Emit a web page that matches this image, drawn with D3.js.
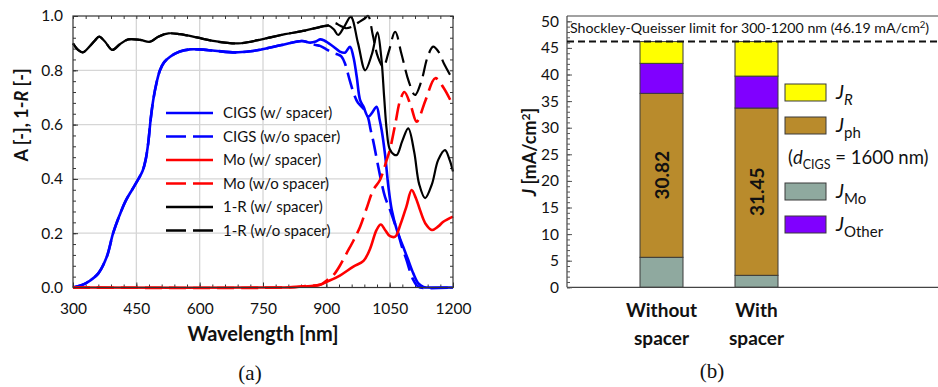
<!DOCTYPE html>
<html lang="en">
<head>
<meta charset="utf-8">
<title>Absorption and current density</title>
<script src="https://cdn.jsdelivr.net/npm/d3@7"></script>
<style>
  body { margin: 0; background: #fff; }
  text { font-family: Lato, "Open Sans", sans-serif; fill: #111; }
</style>
</head>
<body>
<script>
// ---- panel (a) data: wavelength [nm] / value pairs ----
var cigsWithWl  = [300,320,340,360,380,395,410,425,440,455,465,472,478,484,490,498,506,516,530,553,577,600,636,684,720,747,794,842,862,875,885,895,905,917,932,944,956,964,972,980,988,999,1009,1019,1026,1031,1039,1047,1055,1067,1082,1094,1106,1118,1130,1140,1200];
var cigsWithVal = [0.0,0.008,0.025,0.052,0.113,0.2,0.265,0.32,0.36,0.40,0.43,0.47,0.53,0.62,0.69,0.755,0.8,0.83,0.85,0.869,0.877,0.877,0.872,0.866,0.87,0.877,0.893,0.908,0.902,0.906,0.914,0.91,0.9,0.887,0.869,0.865,0.887,0.85,0.776,0.69,0.666,0.629,0.645,0.666,0.62,0.58,0.49,0.371,0.285,0.212,0.15,0.101,0.052,0.015,0.002,0,0];

var cigsWoWl  = [300,320,340,360,380,395,410,425,440,455,465,472,478,484,490,498,506,516,530,553,577,600,636,684,720,747,794,842,862,875,885,900,915,928,936,944,956,966,975,990,999,1005,1011,1023,1031,1039,1051,1060,1070,1080,1090,1098,1106,1114,1122,1200];
var cigsWoVal = [0.0,0.008,0.025,0.052,0.113,0.2,0.265,0.32,0.36,0.40,0.43,0.47,0.53,0.62,0.69,0.755,0.8,0.83,0.85,0.869,0.877,0.877,0.872,0.866,0.87,0.877,0.893,0.908,0.9,0.893,0.89,0.877,0.865,0.858,0.85,0.826,0.76,0.71,0.68,0.655,0.625,0.58,0.54,0.445,0.384,0.334,0.285,0.245,0.2,0.145,0.101,0.06,0.028,0.008,0,0];

var moWithWl  = [300,800,830,869,885,901,932,964,988,1003,1019,1029,1040,1050,1063,1075,1090,1102,1112,1122,1135,1150,1165,1177,1200];
var moWithVal = [0,0,0.002,0.006,0.01,0.021,0.044,0.077,0.098,0.14,0.212,0.232,0.21,0.19,0.187,0.23,0.30,0.359,0.33,0.285,0.235,0.212,0.225,0.242,0.261];

var moWoWl  = [300,800,850,885,900,917,932,948,965,980,995,1011,1027,1043,1051,1063,1075,1085,1100,1114,1135,1158,1178,1200];
var moWoVal = [0,0,0.005,0.01,0.025,0.046,0.08,0.126,0.175,0.224,0.29,0.359,0.396,0.47,0.51,0.60,0.69,0.72,0.67,0.611,0.69,0.771,0.735,0.67];

var rWithWl  = [300,312,323,340,352,362,376,393,411,431,459,482,502,526,553,593,628,660,691,747,802,849,889,905,918,928,942,958,975,992,1008,1021,1030,1037,1043,1050,1060,1067,1080,1094,1108,1120,1134,1150,1165,1181,1192,1200];
var rWithVal = [0.899,0.875,0.866,0.889,0.91,0.924,0.905,0.875,0.896,0.914,0.912,0.905,0.924,0.936,0.933,0.921,0.909,0.902,0.899,0.914,0.933,0.946,0.961,0.965,0.95,0.93,0.96,0.997,0.9,0.8,0.86,0.94,0.85,0.70,0.58,0.51,0.49,0.488,0.54,0.586,0.50,0.38,0.329,0.38,0.47,0.506,0.47,0.427];

var rWoWl  = [300,312,323,340,352,362,376,393,411,431,459,482,502,526,553,593,628,660,691,747,802,849,889,905,918,932,946,960,975,990,999,1010,1022,1035,1048,1063,1078,1095,1110,1125,1140,1153,1165,1180,1200];
var rWoVal = [0.899,0.875,0.866,0.889,0.91,0.924,0.905,0.875,0.896,0.914,0.912,0.905,0.924,0.936,0.933,0.921,0.909,0.902,0.899,0.914,0.933,0.946,0.961,0.965,0.975,0.965,0.955,0.96,0.975,0.99,1.0,0.93,0.85,0.813,0.87,0.942,0.86,0.76,0.709,0.76,0.85,0.887,0.87,0.82,0.764];

var seriesNames  = ["CIGS (w/ spacer)", "CIGS (w/o spacer)", "Mo (w/ spacer)", "Mo (w/o spacer)", "1-R (w/ spacer)", "1-R (w/o spacer)"];
var seriesColors = ["#0000ff", "#0000ff", "#ff0000", "#ff0000", "#000000", "#000000"];
var seriesDashed = [false, true, false, true, false, true];
var seriesWl  = [cigsWithWl, cigsWoWl, moWithWl, moWoWl, rWithWl, rWoWl];
var seriesVal = [cigsWithVal, cigsWoVal, moWithVal, moWoVal, rWithVal, rWoVal];

var wlTicks = [300, 450, 600, 750, 900, 1050, 1200];
var aTicks  = [0, 0.2, 0.4, 0.6, 0.8, 1.0];

// ---- panel (b) data ----
var categories = ["Without spacer", "With spacer"];
var jMo    = [5.64, 2.25];
var jPh    = [30.82, 31.45];
var jOther = [5.64, 6.0];
var jR     = [4.09, 6.49];
var sqLimit = 46.19;
var jTicks = [0, 5, 10, 15, 20, 25, 30, 35, 40, 45, 50];

var svg = d3.select("body").append("svg")
    .attr("width", 938).attr("height", 387);

// ================= panel (a) =================
var x = d3.scaleLinear().domain([300, 1200]).range([73, 453]);
var y = d3.scaleLinear().domain([0, 1]).range([287.5, 16]);

var pa = svg.append("g");

// grid
pa.selectAll(".vgrid").data(wlTicks.slice(1, -1)).enter().append("line")
    .attr("x1", function(d){ return x(d); }).attr("x2", function(d){ return x(d); })
    .attr("y1", y(0)).attr("y2", y(1))
    .attr("stroke", "#d6d6d6").attr("stroke-width", 1.3);
pa.selectAll(".hgrid").data(aTicks.slice(1, -1)).enter().append("line")
    .attr("y1", function(d){ return y(d); }).attr("y2", function(d){ return y(d); })
    .attr("x1", x(300)).attr("x2", x(1200))
    .attr("stroke", "#d6d6d6").attr("stroke-width", 1.3);

// ticks on all four sides, pointing inwards
function ticksA(axisFn, scale, vals, size, tr, labels) {
  var ax = axisFn(scale).tickValues(vals).tickSize(-size).tickPadding(labels ? 10 : 0);
  if (!labels) ax.tickFormat("");
  else ax.tickFormat(scale === y ? d3.format(".1f") : d3.format("d"));
  var g = pa.append("g").attr("transform", tr).call(ax);
  g.select(".domain").remove();
  g.selectAll("line").attr("stroke", "#333");
  g.selectAll("text").attr("font-size", 15.5).attr("fill", "#111")
    .attr("font-family", "Lato, sans-serif");
  return g;
}
var minorWl = d3.range(300, 1201, 30);
var minorA = d3.range(0, 1.001, 0.04);
ticksA(d3.axisBottom, x, minorWl, 3, "translate(0," + y(0) + ")", false);
ticksA(d3.axisTop, x, minorWl, 3, "translate(0," + y(1) + ")", false);
ticksA(d3.axisLeft, y, minorA, 3, "translate(" + x(300) + ",0)", false);
ticksA(d3.axisRight, y, minorA, 3, "translate(" + x(1200) + ",0)", false);
var xb = ticksA(d3.axisBottom, x, wlTicks, 5, "translate(0," + y(0) + ")", true);
xb.selectAll("text").attr("dy", "1.05em");
ticksA(d3.axisLeft, y, aTicks, 5, "translate(" + x(300) + ",0)", true);

// curves
var line = d3.line().curve(d3.curveCatmullRom.alpha(0.5));
seriesNames.forEach(function(name, i) {
  var pts = seriesWl[i].map(function(w, k){ return [x(w), y(seriesVal[i][k])]; });
  pa.append("path")
    .attr("d", line(pts))
    .attr("fill", "none")
    .attr("stroke", seriesColors[i])
    .attr("stroke-width", i < 4 ? 2.6 : 2.2)
    .attr("stroke-dasharray", seriesDashed[i] ? "17,7" : null);
});

pa.append("rect").attr("x", x(300)).attr("y", y(1))
    .attr("width", x(1200) - x(300)).attr("height", y(0) - y(1))
    .attr("fill", "none").attr("stroke", "#333").attr("stroke-width", 1.2);

// legend
var lg = pa.append("g").attr("transform", "translate(166,113)");
seriesNames.forEach(function(name, i) {
  var row = lg.append("g").attr("transform", "translate(0," + (i * 23.5) + ")");
  row.append("line").attr("x1", 0).attr("x2", 47).attr("y1", 0).attr("y2", 0)
    .attr("stroke", seriesColors[i]).attr("stroke-width", 2.6)
    .attr("stroke-dasharray", seriesDashed[i] ? "20,7" : null);
  row.append("text").attr("x", 57).attr("y", 5).attr("font-size", 15).text(name);
});

// axis titles
var yt = pa.append("text").attr("transform", "translate(28,115) rotate(-90)")
    .attr("text-anchor", "middle").attr("font-size", 18).attr("font-weight", "bold");
yt.append("tspan").text("A [-], 1-");
yt.append("tspan").attr("font-style", "italic").text("R");
yt.append("tspan").text(" [-]");

pa.append("text").attr("x", 263).attr("y", 341).attr("text-anchor", "middle")
    .attr("font-size", 20).attr("font-weight", "bold").text("Wavelength [nm]");
pa.append("text").attr("x", 250).attr("y", 380).attr("text-anchor", "middle")
    .attr("font-size", 21).style("font-family", "'Liberation Serif', serif").text("(a)");

// ================= panel (b) =================
var yb = d3.scaleLinear().domain([0, 51]).range([287.3, 16]);
var xc = d3.scalePoint().domain(categories).range([661.5, 756.5]);
var barW = 43;
var pb = svg.append("g");

var table = categories.map(function(c, i) {
  return { cat: c, mo: jMo[i], ph: jPh[i], other: jOther[i], r: jR[i] };
});
var keys = ["mo", "ph", "other", "r"];
var keyColors = { mo: "#8fa99f", ph: "#b98b2c", other: "#8000ff", r: "#ffff00" };
var stacked = d3.stack().keys(keys)(table);

stacked.forEach(function(layer) {
  pb.selectAll(".s-" + layer.key).data(layer).enter().append("rect")
    .attr("x", function(d){ return xc(d.data.cat) - barW / 2; })
    .attr("y", function(d){ return yb(d[1]); })
    .attr("width", barW)
    .attr("height", function(d){ return yb(d[0]) - yb(d[1]); })
    .attr("fill", keyColors[layer.key])
    .attr("stroke", "#3a3a3a").attr("stroke-width", 1);
});

// value labels inside J_ph
var phLayer = stacked[1];
pb.selectAll(".vlab").data(phLayer).enter().append("text")
    .attr("transform", function(d){
      return "translate(" + (xc(d.data.cat) + 7) + "," + yb((d[0] + d[1]) / 2) + ") rotate(-90)";
    })
    .attr("text-anchor", "middle").attr("font-size", 19).attr("font-weight", "bold")
    .text(function(d){ return d3.format(".2f")(d.data.ph); });

// frame and axis
var xLeftB = 567, xRightB = 945;
pb.append("line").attr("x1", xLeftB).attr("x2", xRightB).attr("y1", yb(0)).attr("y2", yb(0))
    .attr("stroke", "#444").attr("stroke-width", 1.2);
pb.append("line").attr("x1", xLeftB).attr("x2", xRightB).attr("y1", yb(51)).attr("y2", yb(51))
    .attr("stroke", "#444").attr("stroke-width", 1.2);
pb.append("line").attr("x1", xLeftB).attr("x2", xLeftB).attr("y1", yb(0)).attr("y2", yb(51))
    .attr("stroke", "#444").attr("stroke-width", 1.2);

var minorB = pb.append("g").attr("transform", "translate(" + xLeftB + ",0)")
    .call(d3.axisRight(yb).tickValues(d3.range(0, 51, 1)).tickSize(3).tickFormat(""));
minorB.select(".domain").remove();
minorB.selectAll("line").attr("stroke", "#555");
var majorB = pb.append("g").attr("transform", "translate(" + xLeftB + ",0)")
    .call(d3.axisLeft(yb).tickValues(jTicks).tickSize(-5).tickPadding(8));
majorB.select(".domain").remove();
majorB.selectAll("line").attr("stroke", "#555");
majorB.selectAll("text").attr("font-size", 15.5).attr("fill", "#111")
    .attr("font-family", "Lato, sans-serif");

// Shockley-Queisser limit
pb.append("line").attr("x1", xLeftB).attr("x2", xRightB)
    .attr("y1", yb(sqLimit)).attr("y2", yb(sqLimit))
    .attr("stroke", "#111").attr("stroke-width", 2).attr("stroke-dasharray", "7,4");
var sq = pb.append("text").attr("x", 570).attr("y", 33).attr("font-size", 14.2);
sq.append("tspan").text("Shockley-Queisser limit for 300-1200 nm (" + sqLimit + " mA/cm");
sq.append("tspan").attr("dy", -5).attr("font-size", 9.5).text("2");
sq.append("tspan").attr("dy", 5).text(")");

// category labels
categories.forEach(function(c) {
  var parts = c.split(" ");
  var t = pb.append("text").attr("x", xc(c)).attr("y", 317).attr("text-anchor", "middle")
      .attr("font-size", 19).attr("font-weight", "bold");
  t.append("tspan").attr("x", xc(c)).text(parts[0]);
  t.append("tspan").attr("x", xc(c)).attr("dy", 28).text(parts[1]);
});

// y title
var ybt = pb.append("text").attr("transform", "translate(536,152) rotate(-90)")
    .attr("text-anchor", "middle").attr("font-size", 18).attr("font-weight", "bold");
ybt.append("tspan").attr("font-style", "italic").text("J");
ybt.append("tspan").text(" [mA/cm");
ybt.append("tspan").attr("dy", -6).attr("font-size", 12).text("2");
ybt.append("tspan").attr("dy", 6).text("]");

// legend
var legItems = [
  { key: "r", sub: "R", subItalic: true, row: 0 },
  { key: "ph", sub: "ph", subItalic: false, row: 1 },
  { key: "mo", sub: "Mo", subItalic: false, row: 3 },
  { key: "other", sub: "Other", subItalic: false, row: 4 }
];
var lb = pb.append("g").attr("transform", "translate(785,84)");
legItems.forEach(function(it) {
  var gy = it.row * 33;
  lb.append("rect").attr("x", 0).attr("y", gy).attr("width", 41).attr("height", 17)
    .attr("fill", keyColors[it.key]).attr("stroke", "#3a3a3a").attr("stroke-width", 1);
  var t = lb.append("text").attr("x", 51).attr("y", gy + 15).attr("font-size", 20);
  t.append("tspan").attr("font-style", "italic").text("J");
  t.append("tspan").attr("dy", 6).attr("font-size", 15)
    .attr("font-style", it.subItalic ? "italic" : null).text(it.sub);
});
var dt = lb.append("text").attr("x", 3).attr("y", 2 * 33 + 14).attr("font-size", 18.5);
dt.append("tspan").text("(");
dt.append("tspan").attr("font-style", "italic").text("d");
dt.append("tspan").attr("dy", 5).attr("font-size", 12.5).text("CIGS");
dt.append("tspan").attr("dy", -5).text(" = 1600 nm)");

pb.append("text").attr("x", 712).attr("y", 378).attr("text-anchor", "middle")
    .attr("font-size", 21).style("font-family", "'Liberation Serif', serif").text("(b)");
</script>
</body>
</html>
